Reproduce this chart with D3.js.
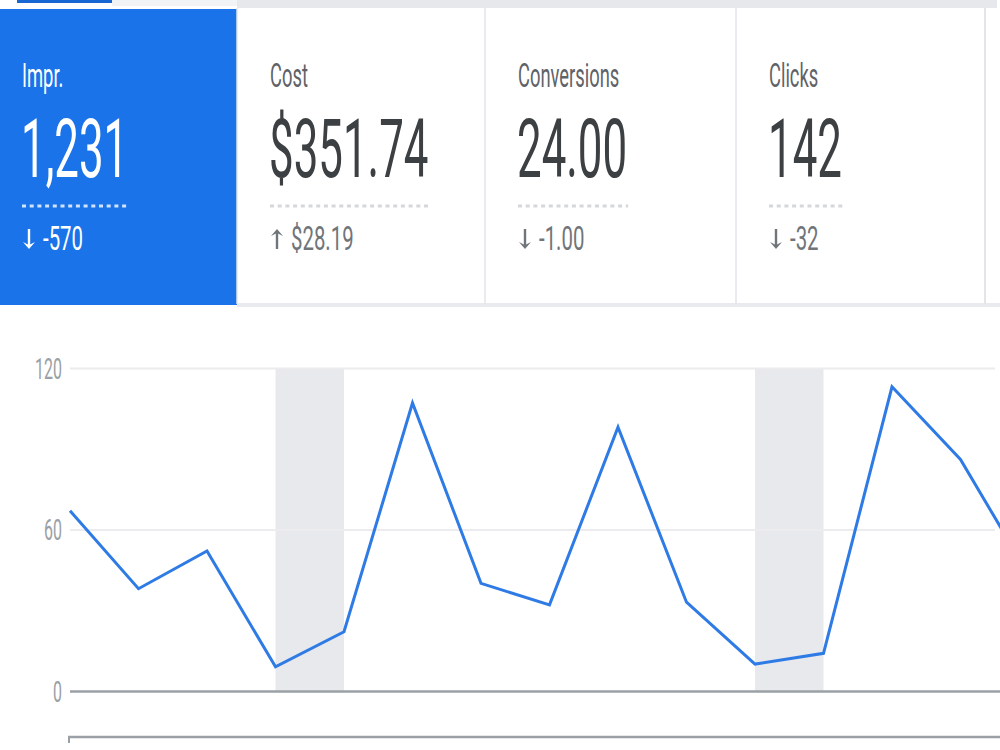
<!DOCTYPE html>
<html>
<head>
<meta charset="utf-8">
<script src="https://cdn.jsdelivr.net/npm/d3@7"></script>
<style>
  html, body { margin: 0; padding: 0; background: #fff; }
  svg { display: block; font-family: Roboto, "Noto Sans", sans-serif; }
</style>
</head>
<body>
<svg id="chart" width="1000" height="750"></svg>
<script>
// ---------------------------------------------------------------------------
// DATA
// ---------------------------------------------------------------------------
const metricLabels = ['Impr.', 'Cost', 'Conversions', 'Clicks'];
const metricValues = ['1,231', '$351.74', '24.00', '142'];
const metricDeltas = ['-570', '$28.19', '-1.00', '-32'];
const deltaDirections = ['down', 'up', 'down', 'down'];

// one point per day, last one runs past the right edge
const days = [0, 1, 2, 3, 4, 5, 6, 7, 8, 9, 10, 11, 12, 13, 14];
const dailyValues = [67, 38, 52, 9, 22, 107, 40, 32, 98, 33, 10, 14, 113, 86, 43];
const weekendStarts = [3, 10];
const yTicks = [0, 60, 120];

// ---------------------------------------------------------------------------
// SET UP
// ---------------------------------------------------------------------------
const svg = d3.select('#chart');
const blue = '#1a73e8';
const squeeze = 0.54; // the screenshot text is narrow, squash it horizontally

// text helper: places a horizontally squeezed label
function squeezedText(g, x, y, str, size, color, sx) {
  return g.append('text')
    .attr('transform', `translate(${x},${y}) scale(${sx || squeeze},1)`)
    .attr('font-size', size)
    .attr('fill', color)
    .text(str);
}

// ---------------------------------------------------------------------------
// SCORE CARDS
// ---------------------------------------------------------------------------
const cardX = [0, 237, 485, 736];
const cardW = [237, 248, 251, 249];

// top strip
svg.append('rect').attr('x', 112).attr('y', 0).attr('width', 125).attr('height', 6).attr('fill', '#f1f3f4');
svg.append('rect').attr('x', 237).attr('y', 0).attr('width', 760).attr('height', 8).attr('fill', '#e6e8eb');
svg.append('rect').attr('x', 17).attr('y', 0).attr('width', 95).attr('height', 3).attr('fill', '#1967d2');
// bottom border of cards
svg.append('rect').attr('x', 237).attr('y', 303).attr('width', 763).attr('height', 4).attr('fill', '#e8eaed');
// right edge of card row
svg.append('line').attr('x1', 985).attr('x2', 985).attr('y1', 8).attr('y2', 304)
  .attr('stroke', '#e3e5e8').attr('stroke-width', 2);

const cards = svg.append('g').attr('class', 'cards');

metricLabels.forEach((label, i) => {
  const selected = i === 0;
  const g = cards.append('g');
  const x0 = cardX[i];
  if (selected) {
    g.append('rect').attr('x', x0).attr('y', 9).attr('width', cardW[i]).attr('height', 296).attr('fill', blue);
  } else {
    g.append('line').attr('x1', x0).attr('x2', x0).attr('y1', 8).attr('y2', 304)
      .attr('stroke', '#e3e5e8').attr('stroke-width', 1.5);
  }
  const tx = x0 + (selected ? 22 : 33);
  const labelColor = selected ? '#fff' : '#5f6368';
  const numColor = selected ? '#fff' : '#3c4043';
  const deltaColor = selected ? '#fff' : '#70757a';

  squeezedText(g, tx, 87, label, 34, labelColor, 0.54);
  const num = squeezedText(g, tx - 1, 177, metricValues[i], 82, numColor, 0.535);
  const numW = num.node().getComputedTextLength() * 0.535;

  // dotted underline
  g.append('line')
    .attr('x1', tx).attr('x2', tx + numW)
    .attr('y1', 206).attr('y2', 206)
    .attr('stroke', selected ? '#d2e3fc' : '#d5d7da')
    .attr('stroke-width', 3)
    .attr('stroke-dasharray', '4,3.7');

  // arrow: stem plus filled head
  const ax = tx + 7;
  const up = deltaDirections[i] === 'up';
  const top = 229, bot = 249;
  const tip = up ? top : bot;
  const dir = up ? 1 : -1;
  g.append('line')
    .attr('x1', ax).attr('x2', ax)
    .attr('y1', up ? top + 4 : top).attr('y2', up ? bot : bot - 4)
    .attr('stroke', deltaColor)
    .attr('stroke-width', 2.4);
  g.append('path')
    .attr('d', `M${ax - 6},${tip + dir * 7}L${ax},${tip}L${ax + 6},${tip + dir * 7}L${ax},${tip + dir * 4}Z`)
    .attr('fill', deltaColor);

  squeezedText(g, tx + 21, 250, metricDeltas[i], 34, deltaColor, 0.6);
});

// ---------------------------------------------------------------------------
// LINE CHART
// ---------------------------------------------------------------------------
const x = d3.scaleLinear().domain([0, 14]).range([70, 1029]);
const y = d3.scaleLinear().domain([0, 120]).range([691, 368]);

const plot = svg.append('g');

// weekend bands
plot.selectAll('rect.band')
  .data(weekendStarts)
  .enter()
  .append('rect')
    .attr('class', 'band')
    .attr('x', d => x(d))
    .attr('width', d => x(d + 1) - x(d))
    .attr('y', y(120))
    .attr('height', y(0) - y(120))
    .attr('fill', '#e8e9ec');

// y axis with gridlines
const yAxis = plot.append('g')
  .attr('transform', `translate(${x(0)},0)`)
  .call(d3.axisLeft(y).tickValues(yTicks).tickSize(-(995 - x(0))).tickPadding(0));
yAxis.select('.domain').remove();
yAxis.selectAll('.tick line')
  .attr('stroke', d => (d === 0 ? '#9aa0a6' : '#ececee'))
  .attr('stroke-width', d => (d === 0 ? 2.5 : 2));
yAxis.selectAll('.tick line').filter(d => d === 0).attr('x2', 1000 - x(0));
yAxis.selectAll('.tick text')
  .attr('x', null)
  .attr('dy', null)
  .attr('transform', 'translate(-8,10) scale(0.55,1)')
  .attr('font-size', 29)
  .attr('font-family', 'Roboto, sans-serif')
  .attr('fill', '#9aa0a6');

// series
const line = d3.line()
  .x((d, i) => x(days[i]))
  .y(d => y(d));

plot.append('path')
  .datum(dailyValues)
  .attr('d', line)
  .attr('fill', 'none')
  .attr('stroke', '#2f7be5')
  .attr('stroke-width', 3)
  .attr('stroke-linejoin', 'miter');

// bottom (x) axis line
const xAxis = plot.append('g').attr('transform', 'translate(0,737)');
xAxis.append('line').attr('x1', 68).attr('x2', 1000).attr('stroke', '#9aa0a6').attr('stroke-width', 2.5);
xAxis.append('line').attr('x1', 69).attr('x2', 69).attr('y1', 0).attr('y2', 6).attr('stroke', '#9aa0a6').attr('stroke-width', 2);
</script>
</body>
</html>
